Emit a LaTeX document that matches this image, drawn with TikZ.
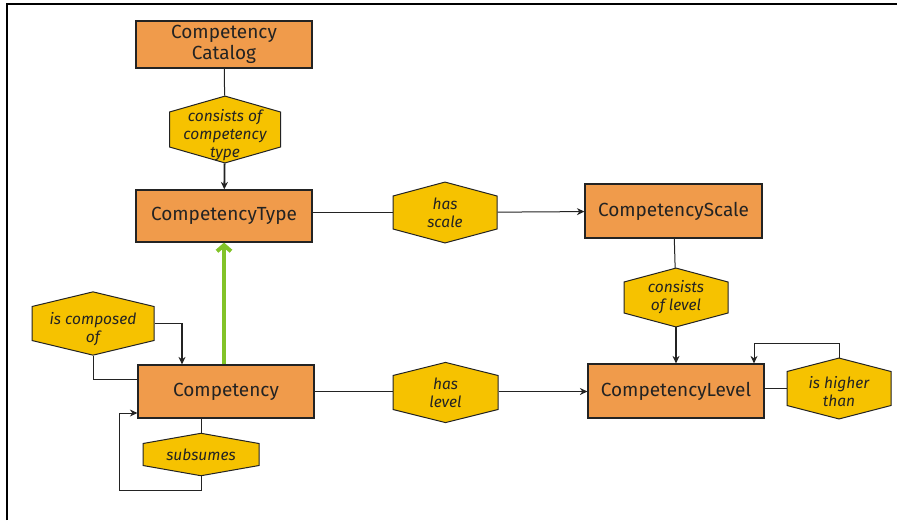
\documentclass[tikz,border=0pt]{standalone}
\usepackage{fontspec}
\setmainfont{Fira Sans}
\usetikzlibrary{shapes.symbols,arrows.meta}
\definecolor{boxorange}{RGB}{240,155,75}
\definecolor{relyellow}{RGB}{246,194,0}
\definecolor{isagreen}{RGB}{130,195,40}
\definecolor{inkgray}{RGB}{35,35,35}
\begin{document}
\begin{tikzpicture}[>={Stealth[length=7.5pt,width=7pt]},x=1pt,y=-1pt,
	entity/.style={draw=inkgray,fill=boxorange,line width=1.2pt,minimum width=176pt,minimum height=53pt,inner sep=0pt,align=center,text=inkgray,font=\fontsize{19}{21}\selectfont},
	rel/.style={signal,signal to=north and south,signal pointer angle=150,draw=inkgray,fill=relyellow,line width=1pt,inner sep=0pt},
	reltext/.style={inner sep=0pt,align=center,text=inkgray,font=\itshape\fontsize{15.5}{18}\selectfont},
	link/.style={draw=inkgray,line width=1pt},
	boldlink/.style={draw=inkgray,line width=1.8pt}]
	\useasboundingbox (0,0) rectangle (897,520);
	% frame
	\draw[line width=2.5pt] (7,520) -- (7,4) -- (897,4);
	% entities
	\node[entity,minimum height=47pt] (cat) at (224,44.5) {Competency\\Catalog};
	\node[entity,minimum height=52pt] (type) at (224,216) {CompetencyType};
	\node[entity,minimum width=177pt,minimum height=54pt] (scale) at (673.5,211) {CompetencyScale};
	\node[entity] (comp) at (226,391.5) {Competency};
	\node[entity,minimum height=54pt] (level) at (676,391) {CompetencyLevel};
	% relations (minimum height = straight side only)
	\node[rel,minimum width=111pt,minimum height=35pt,signal pointer angle=148] (cct) at (225,129.5) {};
	\node[rel,minimum width=104pt,minimum height=33pt] (hs) at (445,212.5) {};
	\node[rel,minimum width=104pt,minimum height=31pt] (col) at (676,297.5) {};
	\node[rel,minimum width=122pt,minimum height=34pt,signal pointer angle=153] (cl) at (93,323.5) {};
	\node[rel,minimum width=116pt,minimum height=22pt,signal pointer angle=160] (sub) at (201,454.5) {};
	\node[rel,minimum width=105pt,minimum height=34pt,signal pointer angle=152] (hl) at (445.5,392.5) {};
	\node[rel,minimum width=104pt,minimum height=34pt,signal pointer angle=151] (iht) at (839,388.5) {};
	\node[reltext] (cctt) at (225,135) {consists of\\competency\\type};
	\node[reltext] (hst) at (hs) {has\\scale};
	\node[reltext] (colt) at (col) {consists\\of level};
	\node[reltext] (clt) at (93,329) {is composed\\of};
	\node[reltext] (subt) at (sub) {subsumes};
	\node[reltext] (hlt) at (hl) {has\\level};
	\node[reltext] (ihtt) at (839,392) {is higher\\than};
	% connectors
	\draw[link] (cat) -- (cct);
	\draw[boldlink,->] (cct) -- (type);
	\draw[link] (type.east |- hs.west) -- (hs.west);
	\draw[link,->] (hs) -- (scale);
	\draw[link] (scale) -- (col);
	\draw[boldlink,->] (col) -- (level.north -| col.south);
	\draw[link] (level.east |- iht.west) -- (iht.west);
	\coordinate (ihtup) at (754,343);
	\draw[link,->] (iht.north) |- (ihtup) -- (ihtup |- level.north);
	\draw[boldlink] (comp.east) -- (hl.west |- comp.east);
	\draw[boldlink,->] (hl.east |- comp.east) -- (level.west |- comp.east);
	\draw[isagreen,line width=4pt,-{Straight Barb[length=6pt,width=14pt]}] (type.south |- comp.north) -- (type.south);
	\draw[link] (cl.south) |- ([yshift=12.5pt]comp.west);
	\draw[boldlink,->] (cl.east) -| ([xshift=-44pt]comp.north);
	\draw[link] (sub.north |- comp.south) -- (sub.north);
	\coordinate (subdown) at (119,490);
	\draw[link,->] (sub.south) |- (subdown) |- ([yshift=-21.5pt]comp.west);
\end{tikzpicture}
\end{document}
